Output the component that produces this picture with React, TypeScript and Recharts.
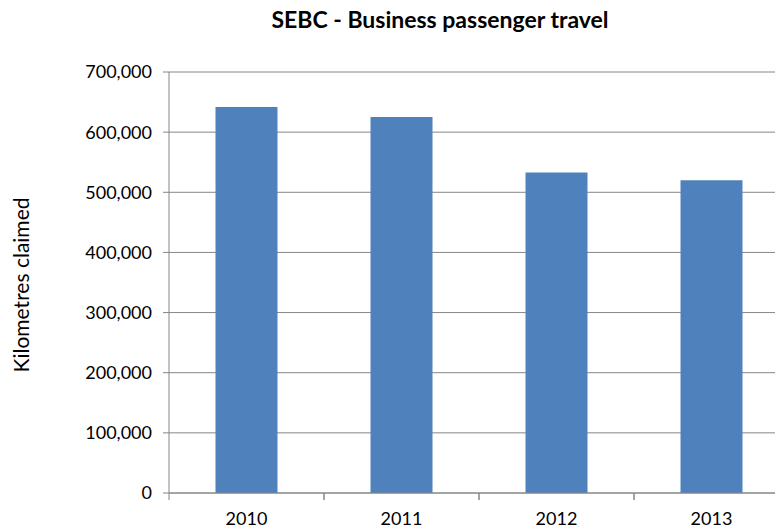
import React from "react";
import { BarChart, Bar, XAxis, YAxis, CartesianGrid } from "recharts";

const years = ["2010", "2011", "2012", "2013"];
const kilometres = [642000, 625000, 533000, 520000];
const yTicks = [0, 100000, 200000, 300000, 400000, 500000, 600000, 700000];

const data = years.map((year, i) => ({ year, km: kilometres[i] }));

const FONT = "Lato, 'Open Sans', sans-serif";
const AXIS = "#868686";

function YearTick(props: any) {
  const { x, y, payload } = props;
  const half = 77.5;
  return (
    <g>
      <line x1={x - half} y1={y} x2={x - half} y2={y + 7} stroke={AXIS} />
      <line x1={x + half} y1={y} x2={x + half} y2={y + 7} stroke={AXIS} />
      <text x={x} y={y + 32} textAnchor="middle" fill="#000" fontSize={18} fontFamily={FONT}>
        {payload.value}
      </text>
    </g>
  );
}

export default function App() {
  return (
    <div
      style={{
        position: "absolute",
        left: 0,
        top: 0,
        width: 775,
        height: 529,
        overflow: "hidden",
        background: "#fff",
      }}
    >
      <div
        style={{
          position: "absolute",
          top: 5,
          left: 0,
          width: 880,
          textAlign: "center",
          fontFamily: FONT,
          fontWeight: 700,
          fontSize: 23,
          color: "#000",
        }}
      >
        SEBC - Business passenger travel
      </div>
      <div
        style={{
          position: "absolute",
          left: 20,
          top: 285,
          transform: "translate(-50%, -50%) rotate(-90deg)",
          whiteSpace: "nowrap",
          fontFamily: FONT,
          fontSize: 21,
          color: "#000",
        }}
      >
        Kilometres claimed
      </div>
      <BarChart
        width={790}
        height={529}
        data={data}
        margin={{ top: 72, right: 1, bottom: 0, left: 0 }}
        barCategoryGap="30%"
      >
        <CartesianGrid vertical={false} stroke={AXIS} strokeWidth={1} />
        <XAxis
          dataKey="year"
          axisLine={{ stroke: AXIS }}
          tickLine={false}
          tickSize={0}
          tickMargin={0}
          tick={<YearTick />}
          height={36}
          interval={0}
        />
        <YAxis
          width={169}
          domain={[0, 700000]}
          ticks={yTicks}
          interval={0}
          axisLine={{ stroke: AXIS }}
          tickLine={{ stroke: AXIS }}
          tickSize={6}
          tickMargin={11}
          tick={{ fill: "#000", fontSize: 18, fontFamily: FONT }}
          tickFormatter={(v: number) => v.toLocaleString("en-US")}
        />
        <Bar dataKey="km" fill="#4F81BD" isAnimationActive={false} />
      </BarChart>
    </div>
  );
}
